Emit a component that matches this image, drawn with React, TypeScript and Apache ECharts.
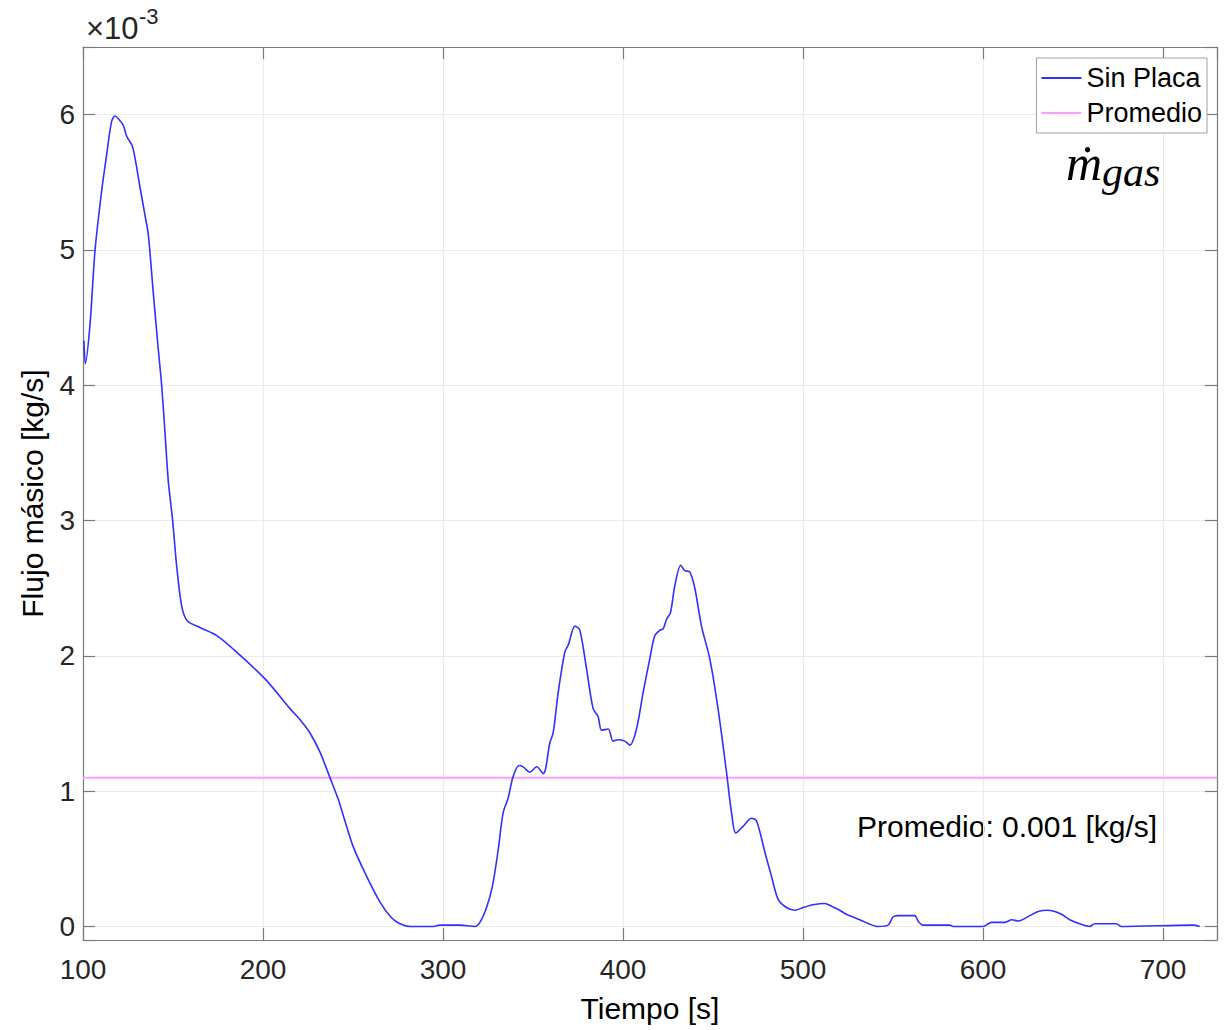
import React, { useEffect, useRef } from "react";
import * as echarts from "echarts";

// Time [s]
const timeS = [
  100.5, 101.3, 103.9, 106.7, 110.4, 113.2, 115.9, 117.8, 119.6, 122.4, 124.3, 127.6, 131.7, 134.4, 136.3, 139.0,
  141.8, 143.7, 145.5, 147.4, 149.8, 152.0, 154.8, 157.9, 165.0, 174.3, 182.6, 201.1, 215.0, 220.5, 226.1, 231.6,
  237.2, 241.8, 244.6, 250.1, 257.6, 265.0, 271.4, 276.1, 281.6, 294.6, 298.3, 309.4, 317.7, 320.5, 324.2, 327.5,
  330.7, 333.4, 336.2, 339.0, 342.3, 344.5, 348.3, 352.0, 355.7, 359.4, 361.2, 364.0, 367.7, 369.6, 373.3, 376.0,
  379.8, 383.4, 386.2, 388.1, 391.8, 394.5, 397.3, 401.0, 403.8, 407.5, 411.2, 414.9, 417.7, 420.5, 422.3, 424.2,
  426.4, 428.8, 432.1, 434.3, 437.1, 439.9, 443.6, 448.2, 452.8, 457.5, 460.3, 462.7, 466.7, 471.4, 474.2, 478.8,
  482.5, 486.2, 490.8, 495.4, 500.1, 505.6, 512.1, 515.8, 520.4, 524.1, 531.5, 541.7, 547.3, 550.0, 552.8, 562.1,
  563.9, 566.7, 581.5, 583.4, 600.0, 604.7, 612.1, 616.1, 619.5, 626.0, 630.6, 635.6, 639.9, 643.6, 648.2, 653.7,
  659.3, 662.1, 674.1, 676.9, 716.7, 720.4,
];
// Mass flow "Sin Placa" [x10^-3 kg/s]
const sinPlaca = [
  4.33, 4.16, 4.45, 5.0, 5.44, 5.71, 5.95, 5.99, 5.97, 5.92, 5.84, 5.76, 5.46, 5.26, 5.11, 4.69,
  4.27, 4.0, 3.66, 3.29, 3.0, 2.67, 2.37, 2.26, 2.21, 2.15, 2.06, 1.83, 1.61, 1.53, 1.43, 1.29,
  1.1, 0.94, 0.82, 0.59, 0.37, 0.18, 0.064, 0.02, 0.0, 0.0, 0.01, 0.01, 0.0, 0.03, 0.14, 0.3,
  0.57, 0.84, 0.95, 1.11, 1.19, 1.18, 1.14, 1.18, 1.13, 1.36, 1.43, 1.73, 2.03, 2.08, 2.22, 2.19,
  1.9, 1.61, 1.55, 1.45, 1.46, 1.37, 1.38, 1.37, 1.34, 1.46, 1.73, 1.98, 2.15, 2.19, 2.2, 2.27,
  2.32, 2.52, 2.67, 2.63, 2.62, 2.5, 2.22, 1.98, 1.61, 1.14, 0.84, 0.69, 0.74, 0.8, 0.78, 0.55,
  0.37, 0.2, 0.14, 0.12, 0.14, 0.16, 0.17, 0.15, 0.12, 0.09, 0.05, 0.0, 0.01, 0.07, 0.08, 0.08,
  0.04, 0.01, 0.01, 0.0, 0.0, 0.03, 0.03, 0.05, 0.04, 0.08, 0.11, 0.12, 0.11, 0.09, 0.05, 0.02,
  0.0, 0.02, 0.02, 0.0, 0.01, 0.0,
];
// Average line
const promedioX = [100, 730];
const promedioY = [1.1, 1.1];

const xTicks = [100, 200, 300, 400, 500, 600, 700];
const yTicks = [0, 1, 2, 3, 4, 5, 6];

const FONT = "'Liberation Sans', Arial, Helvetica, sans-serif";
const SERIF = "'Liberation Serif', 'DejaVu Serif', serif";
const AXIS_COLOR = "#7a7a7a";
const TICK_COLOR = "#262626";
const GRID_COLOR = "#ebebeb";
const BLUE = "#3030ff";
const PINK = "#ff9cff";

export default function App() {
  const ref = useRef<HTMLDivElement>(null);
  useEffect(() => {
    document.body.style.margin = "0";
    if (!ref.current) return;
    const chart = echarts.init(ref.current, null, { renderer: "svg" });
    const mainData = timeS.map((t, i) => [t, sinPlaca[i]]);
    const avgData = promedioX.map((t, i) => [t, promedioY[i]]);
    const commonAxisLine = { show: true, onZero: false, lineStyle: { color: AXIS_COLOR, width: 1.2 } };
    const commonTick = { show: true, inside: true, length: 12, lineStyle: { color: AXIS_COLOR, width: 1.2 } };
    chart.setOption({
      animation: false,
      backgroundColor: "#ffffff",
      grid: { left: 83, top: 47, right: 9, bottom: 90, containLabel: false },
      xAxis: [
        {
          type: "value",
          min: 100,
          max: 730,
          interval: 100,
          axisLine: commonAxisLine,
          axisTick: commonTick,
          splitLine: { show: true, lineStyle: { color: GRID_COLOR, width: 1 } },
          axisLabel: {
            color: TICK_COLOR,
            fontFamily: FONT,
            fontSize: 28,
            margin: 15,
            formatter: (v: number) =>
              xTicks.includes(Math.round(v)) && Math.abs(v - Math.round(v)) < 1e-6 ? String(Math.round(v)) : "",
          },
          name: "Tiempo [s]",
          nameLocation: "middle",
          nameGap: 53,
          nameTextStyle: { color: "#000", fontFamily: FONT, fontSize: 30 },
        },
        {
          type: "value",
          position: "top",
          min: 100,
          max: 730,
          interval: 100,
          axisLine: commonAxisLine,
          axisTick: commonTick,
          splitLine: { show: false },
          axisLabel: { show: false },
        },
      ],
      yAxis: [
        {
          type: "value",
          min: -0.1,
          max: 6.5,
          minInterval: 1,
          maxInterval: 1,
          axisLine: commonAxisLine,
          axisTick: commonTick,
          splitLine: { show: true, lineStyle: { color: GRID_COLOR, width: 1 } },
          axisLabel: {
            color: TICK_COLOR,
            fontFamily: FONT,
            fontSize: 28,
            margin: 8,
            formatter: (v: number) => {
              const r = Math.round(v);
              return Math.abs(v - r) < 1e-6 && yTicks.includes(r) ? String(r) : "";
            },
          },
          name: "Flujo másico [kg/s]",
          nameLocation: "middle",
          nameGap: 36,
          nameTextStyle: { color: "#000", fontFamily: FONT, fontSize: 30 },
        },
        {
          type: "value",
          position: "right",
          min: -0.1,
          max: 6.5,
          minInterval: 1,
          maxInterval: 1,
          axisLine: commonAxisLine,
          axisTick: commonTick,
          splitLine: { show: false },
          axisLabel: { show: false },
        },
      ],
      legend: {
        orient: "vertical",
        right: 19,
        top: 58,
        padding: [5, 5, 5, 5],
        itemGap: 5,
        itemWidth: 40,
        itemHeight: 2,
        borderColor: "#a0a0a0",
        borderWidth: 1,
        backgroundColor: "#ffffff",
        textStyle: { color: "#000", fontFamily: FONT, fontSize: 27, lineHeight: 30 },
        data: [
          { name: "Sin Placa", icon: "rect", itemStyle: { color: BLUE } },
          { name: "Promedio", icon: "rect", itemStyle: { color: PINK } },
        ],
      },
      graphic: [
        {
          type: "text",
          left: 86,
          top: 13,
          style: { text: "×10", fontFamily: FONT, fontSize: 31, fill: "#262626" },
        },
        {
          type: "text",
          left: 139,
          top: 5,
          style: { text: "-3", fontFamily: FONT, fontSize: 22, fill: "#262626" },
        },
        {
          type: "text",
          left: 857,
          top: 811,
          style: { text: "Promedio: 0.001 [kg/s]", fontFamily: FONT, fontSize: 30, fill: "#000" },
        },
        {
          type: "text",
          left: 1066,
          top: 138,
          style: {
            text: "{m|ṁ}{s|gas}",
            rich: {
              m: { fontFamily: SERIF, fontStyle: "italic", fontSize: 50, fill: "#000" },
              s: {
                fontFamily: SERIF,
                fontStyle: "italic",
                fontSize: 42,
                fill: "#000",
                padding: [18, 0, 0, 0],
              },
            },
          },
        },
      ],
      series: [
        {
          name: "Sin Placa",
          type: "line",
          xAxisIndex: 0,
          yAxisIndex: 0,
          data: mainData,
          showSymbol: false,
          symbol: "none",
          smooth: 0.3,
          lineStyle: { color: BLUE, width: 1.6 },
          itemStyle: { color: BLUE },
          z: 3,
        },
        {
          name: "Promedio",
          type: "line",
          xAxisIndex: 0,
          yAxisIndex: 0,
          data: avgData,
          showSymbol: false,
          symbol: "none",
          lineStyle: { color: PINK, width: 2 },
          itemStyle: { color: PINK },
          z: 2,
        },
      ],
    });
    return () => chart.dispose();
  }, []);
  return <div ref={ref} style={{ width: 1226, height: 1030 }} />;
}
